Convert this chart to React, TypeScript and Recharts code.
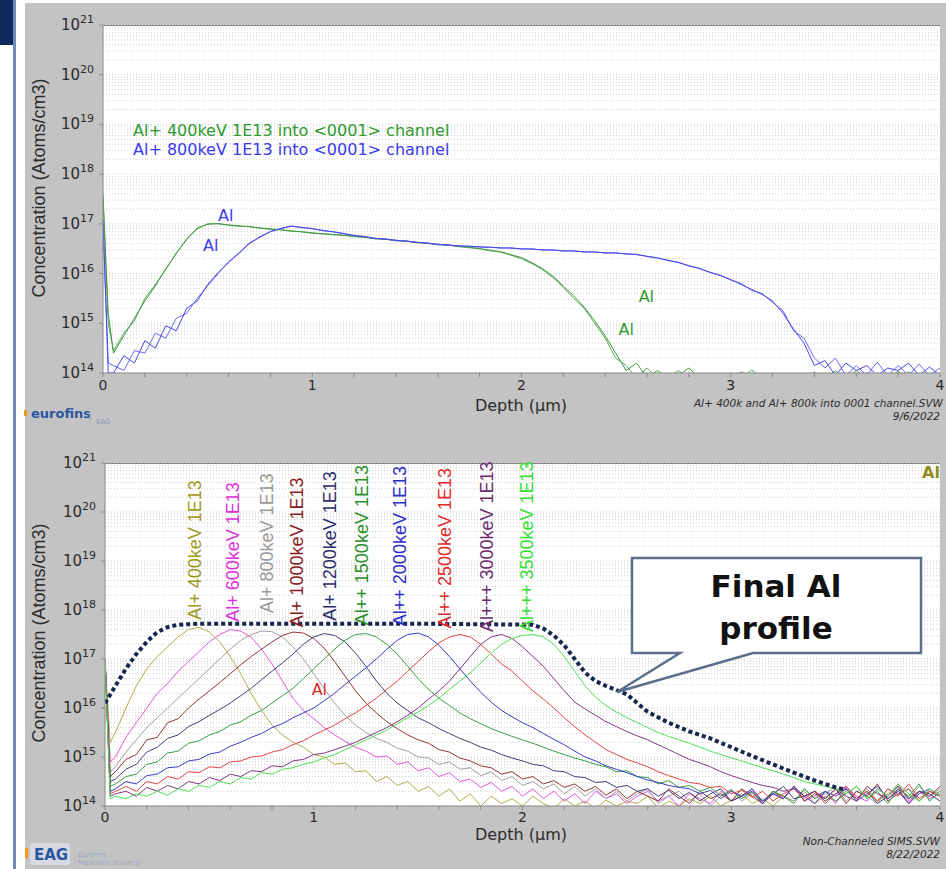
import React from 'react';
import { LineChart, Line, XAxis, YAxis, CartesianGrid, ReferenceDot } from 'recharts';

const SANS = '"DejaVu Sans", Verdana, sans-serif';
const ARIAL = '"Liberation Sans", Arial, sans-serif';

// ---------- shared axes ----------
const depthGrid = [
  0, 0.025, 0.05, 0.1, 0.15, 0.2, 0.25, 0.3, 0.35, 0.4,
  0.45, 0.5, 0.55, 0.6, 0.65, 0.7, 0.75, 0.8, 0.85, 0.9,
  0.95, 1.0, 1.05, 1.1, 1.15, 1.2, 1.25, 1.3, 1.35, 1.4,
  1.45, 1.5, 1.55, 1.6, 1.65, 1.7, 1.75, 1.8, 1.85, 1.9,
  1.95, 2.0, 2.05, 2.1, 2.15, 2.2, 2.25, 2.3, 2.35, 2.4,
  2.45, 2.5, 2.55, 2.6, 2.65, 2.7, 2.75, 2.8, 2.85, 2.9,
  2.95, 3.0, 3.05, 3.1, 3.15, 3.2, 3.25, 3.3, 3.35, 3.4,
  3.45, 3.5, 3.55, 3.6, 3.65, 3.7, 3.75, 3.8, 3.85, 3.9,
  3.95, 4.0,
];
const xTicks = [0, 0.2, 0.4, 0.6, 0.8, 1, 1.2, 1.4, 1.6, 1.8, 2, 2.2, 2.4, 2.6, 2.8, 3, 3.2, 3.4, 3.6, 3.8, 4];
const yTicks = [1e14, 1e15, 1e16, 1e17, 1e18, 1e19, 1e20, 1e21];
const minorMultipliers = [2, 3, 4, 5, 6, 7, 8, 9];
const gridValues = yTicks.slice(0, -1).flatMap((t) => [t, ...minorMultipliers.map((m) => m * t)]).concat([1e21]);

// ---------- top chart: channeled implants (log10 of Atoms/cm3) ----------
const ch400aLog = [
  17.6, 15.2, 14.4, 14.75, 15.1, 15.45, 15.75, 16.1, 16.4, 16.7,
  16.9, 17.0, 17.0, 16.98, 16.96, 16.94, 16.92, 16.9, 16.88, 16.86,
  16.84, 16.82, 16.8, 16.79, 16.77, 16.75, 16.73, 16.71, 16.69, 16.67,
  16.65, 16.63, 16.61, 16.59, 16.57, 16.55, 16.53, 16.5, 16.47, 16.44,
  16.38, 16.32, 16.22, 16.1, 15.95, 15.75, 15.55, 15.32, 15.05, 14.75,
  14.4, 14.05, 14.2, 13.9, 14.05, 13.9, 13.95, 14.1, 13.9, 13.9,
  13.9, 13.9, 14.02, 13.9, 13.9, 13.9, 13.9, 13.9, 13.9, 13.9,
  13.9, 14.04, 13.9, 13.9, 14.0, 13.9, 13.9, 14.03, 13.9, 13.9,
  13.9, 13.9,
];
const ch400bLog = [
  17.5, 15.0, 14.45, 14.8, 15.05, 15.5, 15.78, 16.08, 16.42, 16.68,
  16.92, 16.99, 17.01, 16.97, 16.95, 16.95, 16.91, 16.89, 16.88, 16.85,
  16.84, 16.81, 16.8, 16.78, 16.77, 16.74, 16.73, 16.7, 16.69, 16.66,
  16.65, 16.62, 16.61, 16.58, 16.57, 16.54, 16.52, 16.5, 16.46, 16.43,
  16.37, 16.3, 16.2, 16.08, 15.92, 15.72, 15.5, 15.3, 15.0, 14.7,
  14.3, 14.15, 13.9, 14.1, 13.9, 13.9, 14.05, 13.9, 13.9, 13.95,
  13.9, 13.9, 13.9, 14.06, 13.9, 13.9, 14.0, 13.9, 13.9, 14.02,
  13.9, 13.9, 13.9, 14.05, 13.9, 13.9, 13.9, 13.9, 14.02, 13.9,
  13.9, 13.9,
];
const ch800aLog = [
  17.1, 14.0, 14.0, 14.35, 14.2, 14.65, 14.5, 14.95, 14.85, 15.3,
  15.45, 15.78, 16.02, 16.22, 16.42, 16.6, 16.74, 16.84, 16.91, 16.95,
  16.93, 16.9, 16.87, 16.84, 16.8, 16.77, 16.74, 16.71, 16.69, 16.67,
  16.65, 16.63, 16.61, 16.59, 16.57, 16.56, 16.55, 16.54, 16.53, 16.52,
  16.51, 16.5, 16.49, 16.48, 16.47, 16.46, 16.45, 16.44, 16.43, 16.42,
  16.41, 16.4, 16.38, 16.35, 16.31, 16.27, 16.22, 16.16, 16.1, 16.03,
  15.96, 15.88, 15.78, 15.68, 15.58, 15.45, 15.2, 14.88, 14.6, 14.15,
  14.25, 13.95, 14.2, 14.05, 14.15, 13.95, 14.1, 14.05, 14.2, 13.95,
  14.12, 13.95,
];
const ch800bLog = [
  17.0, 14.2, 14.15, 14.05, 14.45, 14.4, 14.8, 14.7, 15.1, 15.2,
  15.5, 15.75, 16.0, 16.24, 16.4, 16.62, 16.73, 16.85, 16.9, 16.96,
  16.92, 16.91, 16.86, 16.84, 16.81, 16.76, 16.75, 16.7, 16.7, 16.66,
  16.66, 16.62, 16.62, 16.58, 16.58, 16.55, 16.55, 16.53, 16.53, 16.51,
  16.52, 16.49, 16.5, 16.47, 16.48, 16.45, 16.46, 16.43, 16.44, 16.41,
  16.42, 16.39, 16.39, 16.34, 16.32, 16.26, 16.23, 16.15, 16.11, 16.02,
  15.97, 15.87, 15.8, 15.66, 15.6, 15.42, 15.25, 14.85, 14.7, 14.3,
  14.1, 14.3, 13.95, 14.15, 13.95, 14.22, 13.95, 14.15, 13.95, 14.18,
  13.95, 14.1,
];

// ---------- bottom chart: non-channeled implants (log10 of Atoms/cm3) ----------
const al400Log = [
  17.0, 15.3, 15.5, 16.0, 16.45, 16.8, 17.05, 17.25, 17.45, 17.6,
  17.65, 17.55, 17.35, 17.05, 16.7, 16.3, 15.95, 15.65, 15.45, 15.3,
  15.2, 15.05, 15.0, 14.85, 14.88, 14.7, 14.72, 14.5, 14.6, 14.42,
  14.5, 14.3, 14.4, 14.2, 14.35, 14.1, 14.25, 14.0, 14.2, 14.05,
  14.15, 14.0, 14.2, 14.05, 13.95, 14.15, 14.0, 14.1, 13.95, 14.12,
  14.0, 14.1, 14.05, 14.2, 13.95, 14.1, 14.0, 14.15, 14.05, 14.2,
  14.0, 14.12, 14.25, 14.05, 14.15, 14.0, 14.2, 14.1, 14.3, 14.05,
  14.2, 14.1, 14.3, 14.15, 14.35, 14.1, 14.25, 14.4, 14.15, 14.3,
  14.2, 14.35,
];
const al600Log = [
  17.0, 14.9, 15.0, 15.4, 15.7, 16.0, 16.3, 16.5, 16.75, 16.95,
  17.15, 17.35, 17.5, 17.6, 17.57, 17.45, 17.2, 16.9, 16.55, 16.2,
  15.95, 15.78, 15.6, 15.45, 15.32, 15.2, 15.12, 15.0, 15.02, 14.85,
  14.9, 14.72, 14.78, 14.6, 14.68, 14.5, 14.55, 14.38, 14.48, 14.3,
  14.4, 14.2, 14.35, 14.15, 14.3, 14.1, 14.25, 14.05, 14.3, 14.15,
  14.25, 14.05, 14.2, 14.3, 14.1, 14.2, 14.0, 14.25, 14.15, 14.05,
  14.3, 14.1, 14.2, 14.35, 14.05, 14.25, 14.15, 14.4, 14.1, 14.2,
  14.3, 14.05, 14.4, 14.2, 14.1, 14.35, 14.2, 14.45, 14.1, 14.3,
  14.15, 14.25,
];
const al800Log = [
  17.0, 14.7, 14.8, 15.1, 15.35, 15.6, 15.8, 16.0, 16.2, 16.4,
  16.6, 16.8, 17.0, 17.2, 17.38, 17.5, 17.57, 17.56, 17.45, 17.25,
  17.0, 16.7, 16.4, 16.1, 15.85, 15.65, 15.5, 15.38, 15.3, 15.18,
  15.12, 15.0, 14.98, 14.85, 14.9, 14.75, 14.78, 14.62, 14.7, 14.52,
  14.6, 14.42, 14.5, 14.35, 14.45, 14.25, 14.4, 14.2, 14.35, 14.15,
  14.3, 14.1, 14.25, 14.35, 14.05, 14.2, 14.3, 14.1, 14.25, 14.0,
  14.2, 14.35, 14.1, 14.25, 14.05, 14.3, 14.2, 14.1, 14.35, 14.15,
  14.25, 14.4, 14.1, 14.3, 14.2, 14.05, 14.35, 14.25, 14.15, 14.4,
  14.2, 14.3,
];
const al1000Log = [
  17.0, 14.6, 14.7, 14.95, 15.05, 15.35, 15.4, 15.7, 15.78, 16.0,
  16.18, 16.35, 16.52, 16.7, 16.88, 17.05, 17.2, 17.35, 17.48, 17.55,
  17.53, 17.42, 17.22, 16.95, 16.65, 16.35, 16.1, 15.9, 15.72, 15.58,
  15.45, 15.35, 15.28, 15.15, 15.1, 14.98, 14.92, 14.82, 14.78, 14.65,
  14.7, 14.55, 14.6, 14.45, 14.52, 14.38, 14.45, 14.3, 14.4, 14.22,
  14.35, 14.15, 14.3, 14.2, 14.1, 14.35, 14.2, 14.05, 14.3, 14.15,
  14.25, 14.1, 14.35, 14.2, 14.05, 14.3, 14.15, 14.4, 14.1, 14.25,
  14.15, 14.35, 14.05, 14.3, 14.2, 14.45, 14.1, 14.25, 14.35, 14.1,
  14.3, 14.2,
];
const al1200Log = [
  17.0, 14.5, 14.55, 14.75, 14.85, 15.1, 15.2, 15.38, 15.45, 15.62,
  15.72, 15.85, 15.97, 16.1, 16.25, 16.4, 16.58, 16.75, 16.92, 17.1,
  17.3, 17.45, 17.52, 17.48, 17.35, 17.12, 16.85, 16.55, 16.3, 16.1,
  15.95, 15.8, 15.7, 15.58, 15.48, 15.38, 15.3, 15.2, 15.14, 15.05,
  14.98, 14.92, 14.85, 14.82, 14.72, 14.7, 14.6, 14.58, 14.48, 14.5,
  14.38, 14.42, 14.3, 14.35, 14.2, 14.32, 14.15, 14.28, 14.1, 14.25,
  14.35, 14.1, 14.2, 14.3, 14.05, 14.25, 14.4, 14.15, 14.2, 14.3,
  14.1, 14.25, 14.35, 14.15, 14.3, 14.05, 14.2, 14.4, 14.15, 14.3,
  14.25, 14.1,
];
const al1500Log = [
  17.0, 14.4, 14.45, 14.6, 14.65, 14.85, 14.9, 15.08, 15.12, 15.28,
  15.33, 15.45, 15.52, 15.65, 15.72, 15.85, 15.95, 16.1, 16.25, 16.4,
  16.6, 16.8, 17.0, 17.2, 17.38, 17.5, 17.52, 17.45, 17.3, 17.1,
  16.85, 16.6, 16.38, 16.2, 16.05, 15.9, 15.78, 15.68, 15.58, 15.5,
  15.42, 15.35, 15.28, 15.2, 15.12, 15.05, 14.98, 14.92, 14.85, 14.8,
  14.7, 14.72, 14.6, 14.58, 14.45, 14.52, 14.38, 14.42, 14.3, 14.38,
  14.2, 14.32, 14.15, 14.28, 14.1, 14.3, 14.2, 14.05, 14.35, 14.15,
  14.3, 14.1, 14.25, 14.4, 14.15, 14.3, 14.05, 14.35, 14.2, 14.45,
  14.1, 14.3,
];
const al2000Log = [
  17.0, 14.3, 14.35, 14.5, 14.45, 14.62, 14.65, 14.78, 14.8, 14.92,
  14.95, 15.06, 15.1, 15.22, 15.3, 15.4, 15.48, 15.6, 15.68, 15.8,
  15.9, 16.0, 16.15, 16.3, 16.48, 16.65, 16.82, 17.0, 17.2, 17.38,
  17.5, 17.53, 17.45, 17.28, 17.05, 16.8, 16.55, 16.32, 16.12, 15.95,
  15.82, 15.7, 15.6, 15.48, 15.36, 15.25, 15.12, 15.0, 14.92, 14.82,
  14.75, 14.68, 14.6, 14.53, 14.48, 14.42, 14.38, 14.35, 14.25, 14.32,
  14.15, 14.3, 14.2, 14.35, 14.1, 14.25, 14.15, 14.4, 14.2, 14.05,
  14.3, 14.2, 14.35, 14.1, 14.25, 14.4, 14.15, 14.3, 14.05, 14.25,
  14.35, 14.2,
];
const al2500Log = [
  17.0, 14.25, 14.3, 14.4, 14.3, 14.5, 14.45, 14.6, 14.55, 14.7,
  14.68, 14.8, 14.78, 14.9, 14.92, 15.0, 15.02, 15.1, 15.15, 15.25,
  15.33, 15.45, 15.55, 15.65, 15.78, 15.9, 16.05, 16.2, 16.38, 16.55,
  16.75, 16.95, 17.15, 17.33, 17.45, 17.5, 17.45, 17.3, 17.1, 16.9,
  16.75, 16.55, 16.35, 16.18, 16.0, 15.8, 15.62, 15.45, 15.3, 15.15,
  15.05, 14.95, 14.88, 14.8, 14.7, 14.62, 14.55, 14.48, 14.45, 14.38,
  14.4, 14.25, 14.32, 14.18, 14.3, 14.1, 14.25, 14.35, 14.15, 14.3,
  14.05, 14.25, 14.4, 14.15, 14.3, 14.1, 14.35, 14.2, 14.45, 14.15,
  14.3, 14.2,
];
const al3000Log = [
  17.0, 14.2, 14.25, 14.3, 14.2, 14.38, 14.3, 14.42, 14.35, 14.5,
  14.45, 14.58, 14.52, 14.65, 14.6, 14.72, 14.7, 14.82, 14.8, 14.92,
  14.95, 15.05, 15.08, 15.15, 15.22, 15.3, 15.4, 15.5, 15.6, 15.72,
  15.85, 16.0, 16.18, 16.35, 16.55, 16.8, 17.05, 17.3, 17.45, 17.5,
  17.42, 17.25, 17.05, 16.85, 16.6, 16.35, 16.12, 15.98, 15.85, 15.72,
  15.62, 15.52, 15.43, 15.35, 15.25, 15.15, 15.05, 14.95, 14.88, 14.8,
  14.7, 14.62, 14.55, 14.48, 14.42, 14.38, 14.3, 14.35, 14.2, 14.3,
  14.15, 14.35, 14.2, 14.1, 14.4, 14.25, 14.15, 14.35, 14.05, 14.3,
  14.2, 14.4,
];
const al3500Log = [
  17.0, 14.15, 14.2, 14.15, 14.25, 14.2, 14.3, 14.22, 14.35, 14.3,
  14.42, 14.38, 14.5, 14.45, 14.58, 14.55, 14.68, 14.65, 14.75, 14.78,
  14.85, 14.9, 14.98, 15.05, 15.15, 15.25, 15.35, 15.45, 15.55, 15.68,
  15.8, 15.92, 16.05, 16.2, 16.38, 16.55, 16.72, 16.92, 17.12, 17.3,
  17.42, 17.48, 17.5, 17.45, 17.3, 17.05, 16.75, 16.45, 16.22, 16.05,
  15.92, 15.8, 15.7, 15.6, 15.5, 15.42, 15.35, 15.28, 15.2, 15.12,
  15.05, 14.98, 14.92, 14.85, 14.78, 14.72, 14.65, 14.58, 14.5, 14.45,
  14.4, 14.35, 14.25, 14.4, 14.15, 14.35, 14.2, 14.45, 14.25, 14.1,
  14.35, 14.2,
];

// final combined profile (dotted)
const finalDepth = [0, 0.05, 0.1, 0.15, 0.2, 0.25, 0.3, 0.35, 0.45, 1.0, 1.5, 2.05, 2.1, 2.15, 2.2, 2.25, 2.3, 2.35, 2.4, 2.5, 2.6, 2.7, 2.8, 2.9, 3.0, 3.1, 3.2, 3.3, 3.4, 3.5, 3.55];
const finalLog = [16.1, 16.45, 16.8, 17.1, 17.35, 17.55, 17.65, 17.7, 17.72, 17.72, 17.72, 17.7, 17.62, 17.48, 17.28, 17.0, 16.72, 16.55, 16.45, 16.28, 15.92, 15.7, 15.52, 15.38, 15.2, 15.02, 14.85, 14.68, 14.52, 14.38, 14.33];

const implantNames = [
  'Al+ 400keV 1E13', 'Al+ 600keV 1E13', 'Al+ 800keV 1E13', 'Al+ 1000keV 1E13', 'Al+ 1200keV 1E13',
  'Al++ 1500keV 1E13', 'Al++ 2000keV 1E13', 'Al++ 2500keV 1E13', 'Al+++ 3000keV 1E13', 'Al+++ 3500keV 1E13',
];
const implantLogs = [al400Log, al600Log, al800Log, al1000Log, al1200Log, al1500Log, al2000Log, al2500Log, al3000Log, al3500Log];
const implantLineColors = ['#b3ad45', '#e455de', '#a0a0a0', '#933535', '#40407c', '#35a045', '#3c3ccc', '#e44444', '#833883', '#4fe24f'];
const implantLabelColors = ['#9d9a22', '#e030dc', '#9a9a9a', '#8a1c1c', '#2c2c6c', '#2a8f2a', '#2d2dc8', '#e02a2a', '#6e2a6e', '#35dd35'];
const labelDepth = [0.431, 0.613, 0.776, 0.92, 1.078, 1.231, 1.413, 1.629, 1.83, 2.022];
const labelLog = [17.8, 17.76, 17.94, 17.65, 17.78, 17.69, 17.67, 17.63, 17.55, 17.55];

// annotation anchors (depth, log10 conc)
const topAlNotes = [
  { d: 0.55, v: 17.06, color: '#3a3af0' },
  { d: 0.478, v: 16.46, color: '#3a3af0' },
  { d: 2.56, v: 15.42, color: '#2f9a2f' },
  { d: 2.464, v: 14.76, color: '#2f9a2f' },
];

// ---------- tables ----------
const topTable = depthGrid.map((d, i) => ({
  d,
  g1: 10 ** ch400aLog[i],
  g2: 10 ** ch400bLog[i],
  b1: 10 ** ch800aLog[i],
  b2: 10 ** ch800bLog[i],
}));
const bottomTable = depthGrid.map((d, i) => {
  const row: Record<string, number> = { d };
  implantLogs.forEach((arr, k) => { row['s' + k] = 10 ** arr[i]; });
  return row;
});
const finalTable = finalDepth.map((d, i) => ({ d, c: 10 ** finalLog[i] }));

// ---------- ticks ----------
function PowTick(props: any) {
  const { x, y, payload } = props;
  const exp = Math.round(Math.log10(payload.value));
  return (
    <g>
      <text x={x - 13} y={y + 5} textAnchor="end" fontSize={15} fontFamily={SANS} fill="#2b2b2b">10</text>
      <text x={x - 13} y={y - 2} textAnchor="start" fontSize={11} fontFamily={SANS} fill="#2b2b2b">{exp}</text>
    </g>
  );
}
function DepthTick(props: any) {
  const { x, y, payload } = props;
  if (!Number.isInteger(payload.value)) return <g />;
  return (
    <text x={x} y={y + 11} textAnchor="middle" fontSize={14} fontFamily={SANS} fill="#2b2b2b">{payload.value}</text>
  );
}

const axisStroke = '#8a8a8a';

export default function App() {
  return (
    <div style={{ position: 'absolute', left: 0, top: 0, width: 946, height: 869, background: '#ffffff', overflow: 'hidden' }}>
      {/* slide decorations */}
      <div style={{ position: 'absolute', left: 0, top: 0, width: 13, height: 45, background: '#0e2a5c' }} />
      <div style={{ position: 'absolute', left: 13, top: 0, width: 3, height: 869, background: '#7189b3' }} />
      <div style={{ position: 'absolute', left: 25, top: 3, width: 921, height: 866, background: '#c3c3c3' }} />
      {/* plot backgrounds */}
      <div style={{ position: 'absolute', left: 103, top: 25, width: 837, height: 348, background: '#ffffff', borderTop: '1px solid #7a7a7a', boxSizing: 'border-box' }} />
      <div style={{ position: 'absolute', left: 105, top: 463, width: 835, height: 343, background: '#ffffff', borderTop: '1px solid #7a7a7a', boxSizing: 'border-box' }} />

      {/* top chart */}
      <div style={{ position: 'absolute', left: 0, top: 0 }}>
        <LineChart width={946} height={420} data={topTable} margin={{ top: 25, right: 6, left: 0, bottom: 0 }}>
          <CartesianGrid vertical={false} horizontalValues={gridValues} stroke="#cdcdcd" strokeDasharray="1 2" />
          <XAxis dataKey="d" type="number" domain={[0, 4]} ticks={xTicks} interval={0} height={47} allowDataOverflow
            stroke={axisStroke} tickSize={4} tickMargin={2} tick={<DepthTick />} />
          <YAxis type="number" scale="log" domain={[1e14, 1e21]} ticks={yTicks} interval={0} width={103} allowDataOverflow
            stroke={axisStroke} tickSize={4} tickMargin={6} tick={<PowTick />} />
          <Line dataKey="g2" stroke="#5aaa5a" strokeWidth={1} dot={false} isAnimationActive={false} type="linear" />
          <Line dataKey="g1" stroke="#3f9a3f" strokeWidth={1} dot={false} isAnimationActive={false} type="linear" />
          <Line dataKey="b2" stroke="#6a6af2" strokeWidth={1} dot={false} isAnimationActive={false} type="linear" />
          <Line dataKey="b1" stroke="#4848ee" strokeWidth={1} dot={false} isAnimationActive={false} type="linear" />
          {topAlNotes.map((n, i) => (
            <ReferenceDot key={'tn' + i} x={n.d} y={10 ** n.v} r={0} ifOverflow="visible"
              shape={(p: any) => (
                <text x={p.cx} y={p.cy} fontSize={16} fontFamily={SANS} fill={n.color}>Al</text>
              )} />
          ))}
        </LineChart>
      </div>

      {/* bottom chart */}
      <div style={{ position: 'absolute', left: 0, top: 430 }}>
        <LineChart width={946} height={439} data={bottomTable} margin={{ top: 33, right: 6, left: 0, bottom: 0 }}>
          <CartesianGrid vertical={false} horizontalValues={gridValues} stroke="#cdcdcd" strokeDasharray="1 2" />
          <XAxis dataKey="d" type="number" domain={[0, 4]} ticks={xTicks} interval={0} height={63} allowDataOverflow
            stroke={axisStroke} tickSize={4} tickMargin={1} tick={<DepthTick />} />
          <YAxis type="number" scale="log" domain={[1e14, 1e21]} ticks={yTicks} interval={0} width={105} allowDataOverflow
            stroke={axisStroke} tickSize={4} tickMargin={6} tick={<PowTick />} />
          {implantLogs.map((_, k) => (
            <Line key={'s' + k} dataKey={'s' + k} stroke={implantLineColors[k]} strokeWidth={1} dot={false}
              isAnimationActive={false} type="linear" />
          ))}
          <Line data={finalTable} dataKey="c" stroke="#17264e" strokeWidth={4} strokeDasharray="4 3" dot={false}
            isAnimationActive={false} type="linear" />
          {implantNames.map((name, i) => (
            <ReferenceDot key={'lab' + i} x={labelDepth[i]} y={10 ** labelLog[i]} r={0} ifOverflow="visible"
              shape={(p: any) => (
                <text x={p.cx} y={p.cy} transform={`rotate(-90 ${p.cx} ${p.cy})`} fontSize={18} fontFamily={ARIAL}
                  fill={implantLabelColors[i]} dominantBaseline="central">{name}</text>
              )} />
          ))}
          <ReferenceDot x={0.99} y={10 ** 16.27} r={0} ifOverflow="visible"
            shape={(p: any) => <text x={p.cx} y={p.cy} fontSize={16} fontFamily={SANS} fill="#e02a2a">Al</text>} />
          <ReferenceDot x={3.914} y={10 ** 20.69} r={0} ifOverflow="visible"
            shape={(p: any) => <text x={p.cx} y={p.cy} fontSize={16} fontWeight="bold" fontFamily={SANS} fill="#8f8c22">Al</text>} />
        </LineChart>
      </div>

      {/* overlay texts and callout */}
      <svg width={946} height={869} style={{ position: 'absolute', left: 0, top: 0, pointerEvents: 'none' }}>
        {/* top legend */}
        <text x={133} y={136} fontSize={16} fontFamily={SANS} fill="#2f9a2f">Al+ 400keV 1E13 into &lt;0001&gt; channel</text>
        <text x={133} y={155} fontSize={16} fontFamily={SANS} fill="#3a3af0">Al+ 800keV 1E13 into &lt;0001&gt; channel</text>

        {/* axis titles */}
        <text x={39} y={188} transform="rotate(-90 39 188)" textAnchor="middle" dominantBaseline="central" fontSize={18} fontFamily={ARIAL} fill="#2b2b2b">Concentration (Atoms/cm3)</text>
        <text x={39} y={633} transform="rotate(-90 39 633)" textAnchor="middle" dominantBaseline="central" fontSize={18} fontFamily={ARIAL} fill="#2b2b2b">Concentration (Atoms/cm3)</text>
        <text x={521} y={411} textAnchor="middle" fontSize={16} fontFamily={SANS} fill="#2b2b2b">Depth (µm)</text>
        <text x={521} y={840} textAnchor="middle" fontSize={16} fontFamily={SANS} fill="#2b2b2b">Depth (µm)</text>

        {/* footers */}
        <text x={943} y={407} textAnchor="end" fontSize={10.5} fontStyle="italic" fontFamily={SANS} fill="#2b2b2b">Al+ 400k and Al+ 800k into 0001 channel.SVW</text>
        <text x={940} y={420} textAnchor="end" fontSize={10.5} fontStyle="italic" fontFamily={SANS} fill="#2b2b2b">9/6/2022</text>
        <text x={940} y={845} textAnchor="end" fontSize={10.5} fontStyle="italic" fontFamily={SANS} fill="#2b2b2b">Non-Channeled SIMS.SVW</text>
        <text x={940} y={858} textAnchor="end" fontSize={10.5} fontStyle="italic" fontFamily={SANS} fill="#2b2b2b">8/22/2022</text>

        {/* logos */}
        <rect x={24} y={410} width={3} height={6} fill="#f39a1e" />
        <text x={31} y={418} fontSize={13} fontWeight="bold" fontFamily={SANS} fill="#2a56a0">eurofins</text>
        <line x1={90} y1={406} x2={90} y2={424} stroke="#b0b0b0" strokeWidth={1} />
        <text x={96} y={424} fontSize={7} fontFamily={SANS} fill="#8899c0">EAG</text>
        <rect x={25} y={848} width={3} height={10} fill="#f39a1e" />
        <rect x={30} y={843} width={40} height={22} rx={3} fill="#d6d9e2" />
        <text x={34} y={860} fontSize={15} fontWeight="bold" fontFamily={SANS} fill="#2a56a0">EAG</text>
        <text x={78} y={857} fontSize={7} fontFamily={SANS} fill="#9aa8c8">Eurofins</text>
        <text x={78} y={865} fontSize={7} fontFamily={SANS} fill="#9aa8c8">Materials Science</text>

        {/* callout */}
        <path d="M632,558 H921 V653 H753 L617,692 L680,653 H632 Z" fill="#ffffff" stroke="#5b6e8c" strokeWidth={2.5} strokeLinejoin="miter" />
        <text x={776} y={597} textAnchor="middle" fontSize={31} fontWeight="bold" fontFamily={SANS} fill="#111111">Final Al</text>
        <text x={776} y={639} textAnchor="middle" fontSize={31} fontWeight="bold" fontFamily={SANS} fill="#111111">profile</text>
      </svg>
    </div>
  );
}
